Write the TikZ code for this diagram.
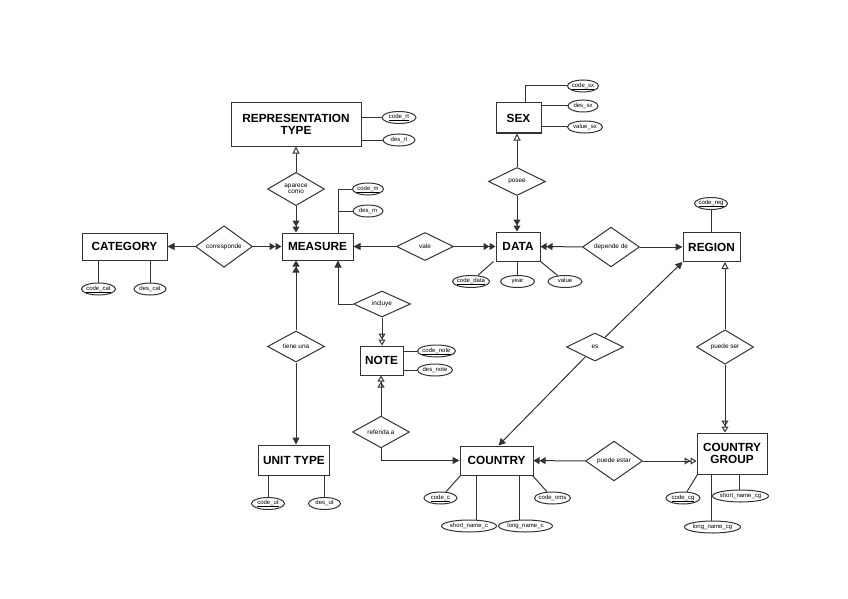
\documentclass[tikz,border=0pt]{standalone}
\usepackage{fontspec}
\setmainfont{Liberation Sans}
\usetikzlibrary{shapes.geometric,arrows.meta}
\colorlet{ln}{black!80}
\tikzset{
  ent/.style={draw=ln, line width=1pt, rectangle, inner sep=0pt, align=center,
    font=\bfseries\fontsize{11.8}{12.6}\selectfont},
  rel/.style={draw=ln, line width=1pt, diamond, inner sep=0pt, align=center,
    minimum width=57pt, minimum height=28pt, font=\fontsize{6.4}{6.6}\selectfont},
  attr/.style={draw=ln, line width=1pt, ellipse, inner ysep=0pt, inner xsep=-3pt, minimum height=12pt,
    text height=4.2pt, text depth=1.3pt, font=\fontsize{6}{6.5}\selectfont},
  lk/.style={draw=ln, line width=1pt},
  one/.style={lk, -{Triangle[length=7pt,width=7pt]}},
  many/.style={lk, -{Triangle[length=6pt,width=7pt]Triangle[length=6pt,width=7pt]}},
  opt/.style={lk, -{Triangle[open,length=7pt,width=7pt]}},
  optmany/.style={lk, -{Triangle[open,length=6pt,width=7pt]Triangle[open,length=6pt,width=7pt]}}
}
\newcommand{\keyattr}[1]{\underline{\smash{#1}}}
\begin{document}
\begin{tikzpicture}[x=1pt,y=-1pt]
\useasboundingbox[fill=white] (0,0) rectangle (848,599);

% entities
\node[ent, minimum width=130pt, minimum height=43pt] (rt) at (296,124.5) {REPRESENTATION\\TYPE};
\node[ent, minimum width=45pt, minimum height=30pt] (sex) at (518.5,118) {SEX};
\node[ent, minimum width=85pt, minimum height=27pt] (category) at (124.5,246.5) {CATEGORY};
\node[ent, minimum width=71pt, minimum height=27pt] (measure) at (317.5,246.5) {MEASURE};
\node[ent, minimum width=44pt, minimum height=29pt] (data) at (518,246.5) {DATA};
\node[ent, minimum width=57pt, minimum height=29pt] (region) at (711.5,247) {REGION};
\node[ent, minimum width=43pt, minimum height=29pt] (note) at (381.5,360.5) {NOTE};
\node[ent, minimum width=71pt, minimum height=30pt] (unit) at (294,460) {UNIT TYPE};
\node[ent, minimum width=73pt, minimum height=29pt] (country) at (496.5,460.5) {COUNTRY};
\node[ent, minimum width=70pt, minimum height=41pt] (cg) at (732,453.5) {COUNTRY\\GROUP};

% relationships
\node[rel] (aparece) at (296,189) {aparece\\como};
\node[rel] (corresponde) at (224,246.5) {corresponde};
\node[rel] (vale) at (425,246.5) {vale};
\node[rel] (posee) at (517,181.5) {posee};
\node[rel] (depende) at (611,247) {depende de};
\node[rel] (tiene) at (296,346.5) {tiene una};
\node[rel, minimum height=26pt] (incluye) at (382,304) {incluye};
\node[rel] (referida) at (381,432) {referida a};
\node[rel] (es) at (595,347) {es};
\node[rel] (puedeser) at (725,347) {puede ser};
\node[rel] (puedeestar) at (614,461) {puede estar};

% attributes
\node[attr, minimum width=34pt] (codert) at (399,117.5) {\keyattr{code\_rt}};
\node[attr, minimum width=32pt] (desrt) at (399,140) {des\_rt};
\node[attr, minimum width=31pt] (codem) at (368,189) {\keyattr{code\_m}};
\node[attr, minimum width=30pt] (desm) at (368,211) {des\_m};
\node[attr, minimum width=31pt] (codesx) at (583,86) {\keyattr{code\_sx}};
\node[attr, minimum width=30pt] (dessx) at (583,106) {des\_sx};
\node[attr, minimum width=35pt] (valuesx) at (585,127) {value\_sx};
\node[attr, minimum width=34pt] (codecat) at (98.5,289) {\keyattr{code\_cat}};
\node[attr, minimum width=32pt] (descat) at (150,289) {des\_cat};
\node[attr, minimum width=37pt] (codedata) at (471,281.5) {\keyattr{code\_data}};
\node[attr, minimum width=34pt] (year) at (517.5,281.5) {year};
\node[attr, minimum width=34pt] (value) at (565,281.5) {value};
\node[attr, minimum width=33pt] (codereg) at (711,203.5) {\keyattr{code\_reg}};
\node[attr, minimum width=38pt] (codenote) at (436.5,351) {\keyattr{code\_note}};
\node[attr, minimum width=35pt] (desnote) at (435,370) {des\_note};
\node[attr, minimum width=33pt] (codeut) at (268,503.5) {\keyattr{code\_ut}};
\node[attr, minimum width=32pt] (desut) at (324.5,503.5) {des\_ut};
\node[attr, minimum width=33pt] (codec) at (440.5,498) {\keyattr{code\_c}};
\node[attr, minimum width=36pt] (codeoms) at (552.5,498) {code\_oms};
\node[attr, minimum width=55pt] (shortc) at (469,526) {short\_name\_c};
\node[attr, minimum width=54pt] (longc) at (525.5,526) {long\_name\_c};
\node[attr, minimum width=34pt] (codecg) at (683,498) {\keyattr{code\_cg}};
\node[attr, minimum width=56pt] (shortcg) at (740.5,496) {short\_name\_cg};
\node[attr, minimum width=56pt] (longcg) at (712.5,527) {long\_name\_cg};

% connection points
\coordinate (mtop) at (338,233);
\coordinate (sxtop) at (525,103);

% relationship links
\draw[opt] (aparece) -- (aparece |- rt.south);
\draw[many] (aparece) -- (aparece |- measure.north);
\draw[one] (corresponde) -- (category);
\draw[many] (corresponde) -- (measure);
\draw[one] (vale) -- (measure);
\draw[many] (vale) -- (data);
\draw[opt] (posee) -- (posee |- sex.south);
\draw[many] (posee) -- (posee |- data.north);
\draw[many] (depende) -- (data);
\draw[one] (depende) -- (region);
\draw[many] (tiene) -- (tiene |- measure.south);
\draw[one] (tiene) -- (tiene |- unit.north);
\draw[one] (incluye.west) -| (mtop |- measure.south);
\draw[optmany] (incluye) -- (incluye |- note.north);
\draw[optmany] (referida) -- (referida |- note.south);
\draw[one] (referida.south) |- (country.west);
\draw[one] (es) -- (region.south west);
\draw[one] (es) -- ([xshift=2pt]country.north);
\draw[opt] (puedeser) -- (puedeser |- region.south);
\draw[optmany] (puedeser) -- (puedeser |- cg.north);
\draw[many] (puedeestar) -- (country);
\draw[optmany] (puedeestar) -- (puedeestar -| cg.west);

% attribute links
\draw[lk] (codert.west) -- (codert.west -| rt.east);
\draw[lk] (desrt.west) -- (desrt.west -| rt.east);
\draw[lk] (mtop) |- (codem.west);
\draw[lk] (desm.west) -- (desm.west -| mtop);
\draw[lk] (sxtop) |- (codesx.west);
\draw[lk] (dessx.west) -- (dessx.west -| sex.east);
\draw[lk] (valuesx.west) -- (valuesx.west -| sex.east);
\draw[lk] (codecat) -- (codecat |- category.south);
\draw[lk] (descat) -- (descat |- category.south);
\draw[lk] (codedata) -- ([xshift=-2pt]data.south west);
\draw[lk] (year) -- (year |- data.south);
\draw[lk] (value) -- (data.south east);
\draw[lk] (codereg) -- (codereg |- region.north);
\draw[lk] (codenote.west) -- (codenote.west -| note.east);
\draw[lk] (desnote.west) -- (desnote.west -| note.east);
\draw[lk] (codeut) -- (codeut |- unit.south);
\draw[lk] (desut) -- (desut |- unit.south);
\draw[lk] (codec) -- ([xshift=1pt]country.south west);
\draw[lk] ([xshift=7pt]shortc.north) -- ([xshift=7pt]shortc.north |- country.south);
\draw[lk] ([xshift=-6pt]longc.north) -- ([xshift=-6pt]longc.north |- country.south);
\draw[lk] (codeoms) -- ([xshift=-1pt]country.south east);
\draw[lk] (codecg) -- ([xshift=1pt]cg.south west);
\draw[lk] ([xshift=-1.5pt]longcg.north) -- ([xshift=-1.5pt]longcg.north |- cg.south);
\draw[lk] ([xshift=-1.5pt]shortcg.north) -- ([xshift=-1.5pt]shortcg.north |- cg.south);
\end{tikzpicture}
\end{document}
